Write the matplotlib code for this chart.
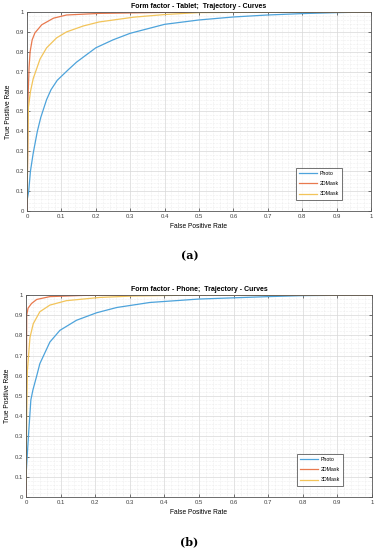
import matplotlib.pyplot as plt
from matplotlib.ticker import MultipleLocator, FuncFormatter

# ROC curves
tab_photo_x = [0, 0.005, 0.01, 0.018, 0.03, 0.04, 0.057, 0.07, 0.088, 0.12, 0.144, 0.2, 0.25, 0.3, 0.4, 0.5, 0.6, 0.7, 0.8, 0.9, 1]
tab_photo_y = [0.05, 0.1, 0.2, 0.29, 0.4, 0.47, 0.56, 0.61, 0.657, 0.71, 0.748, 0.82, 0.86, 0.893, 0.938, 0.96, 0.975, 0.985, 0.992, 0.997, 1]
tab_2d_x = [0, 0.002, 0.003, 0.006, 0.009, 0.015, 0.023, 0.043, 0.077, 0.115, 0.21, 0.4, 0.6, 1]
tab_2d_y = [0, 0.3, 0.57, 0.72, 0.8, 0.86, 0.895, 0.936, 0.969, 0.985, 0.993, 0.998, 1, 1]
tab_3d_x = [0, 0.002, 0.004, 0.01, 0.018, 0.038, 0.057, 0.086, 0.115, 0.164, 0.21, 0.31, 0.406, 0.5, 0.6, 1]
tab_3d_y = [0.05, 0.3, 0.52, 0.6, 0.665, 0.764, 0.82, 0.87, 0.9, 0.93, 0.95, 0.974, 0.988, 0.997, 0.998, 1]

ph_photo_x = [0, 0.002, 0.007, 0.014, 0.02, 0.031, 0.04, 0.069, 0.098, 0.146, 0.204, 0.262, 0.358, 0.5, 0.7, 0.8, 1]
ph_photo_y = [0.1, 0.16, 0.3, 0.48, 0.53, 0.6, 0.66, 0.767, 0.825, 0.875, 0.912, 0.938, 0.963, 0.98, 0.992, 0.997, 1]
ph_2d_x = [0, 0.001, 0.002, 0.006, 0.016, 0.031, 0.069, 0.165, 0.3, 1]
ph_2d_y = [0, 0.5, 0.9, 0.935, 0.958, 0.978, 0.992, 0.998, 1, 1]
ph_3d_x = [0, 0.002, 0.004, 0.0115, 0.021, 0.04, 0.069, 0.117, 0.214, 0.31, 0.5, 1]
ph_3d_y = [0.07, 0.4, 0.625, 0.79, 0.858, 0.917, 0.95, 0.972, 0.988, 0.995, 1, 1]

labels = ['Photo', '2DMask', '3DMask']
colors = ['#4da3db', '#e8794e', '#f2c45a']

panels = [
    ('Form factor - Tablet;  Trajectory - Curves', '(a)',
     [(tab_photo_x, tab_photo_y), (tab_2d_x, tab_2d_y), (tab_3d_x, tab_3d_y)]),
    ('Form factor - Phone;  Trajectory - Curves', '(b)',
     [(ph_photo_x, ph_photo_y), (ph_2d_x, ph_2d_y), (ph_3d_x, ph_3d_y)]),
]

plt.rcParams['font.family'] = ['Liberation Sans', 'DejaVu Sans']

fig = plt.figure(figsize=(3.79, 5.5), dpi=100)
W, H = 379, 550
boxes = [(27, 12, 371, 211), (26, 295, 372, 497)]
legs = [(293, 165), (294, 451)]
caps = [256, 542]
fmt = FuncFormatter(lambda v, p: '%g' % round(v, 2))

for (title, cap, curves), (l, t, r, b), (lx, ly), cy in zip(panels, boxes, legs, caps):
    ax = fig.add_axes([l / W, 1 - b / H, (r - l) / W, (b - t) / H])
    for (xs, ys), lab, c in zip(curves, labels, colors):
        ax.plot(xs, ys, color=c, lw=0.9, label=lab)
    ax.set_xlim(0, 1)
    ax.set_ylim(0, 1)
    ax.xaxis.set_major_locator(MultipleLocator(0.1))
    ax.yaxis.set_major_locator(MultipleLocator(0.1))
    ax.xaxis.set_minor_locator(MultipleLocator(0.02))
    ax.yaxis.set_minor_locator(MultipleLocator(0.02))
    ax.xaxis.set_major_formatter(fmt)
    ax.yaxis.set_major_formatter(fmt)
    ax.grid(True, which='major', color='#d8d8d8', lw=0.5)
    ax.grid(True, which='minor', color='#e0e0e0', lw=0.4, ls=':')
    ax.set_axisbelow(True)
    ax.tick_params(which='both', direction='in', top=True, right=True, labelsize=4.3, colors='#404040', pad=2)
    ax.tick_params(which='major', length=2.5, width=0.5)
    ax.tick_params(which='minor', length=0)
    for s in ax.spines.values():
        s.set_color('#555555')
        s.set_linewidth(0.6)
    ax.set_title(title, fontsize=5, fontweight='bold', pad=3)
    ax.set_xlabel('False Positive Rate', fontsize=4.8, labelpad=3)
    ax.set_ylabel('True Positive Rate', fontsize=4.8, labelpad=3)
    leg = ax.legend(loc='upper left', bbox_to_anchor=((lx - l) / (r - l), (b - ly) / (b - t)),
                    fontsize=3.8, frameon=True, fancybox=False, borderpad=0.6,
                    handlelength=3.5, labelspacing=1.0, handletextpad=0.5)
    leg.get_frame().set_edgecolor('#333333')
    leg.get_frame().set_linewidth(0.6)
    fig.text(0.5, 1 - cy / H, cap, ha='center', va='center', fontsize=8,
             fontweight='bold', family=['DejaVu Serif'])

fig.savefig('out.png', dpi=100)
